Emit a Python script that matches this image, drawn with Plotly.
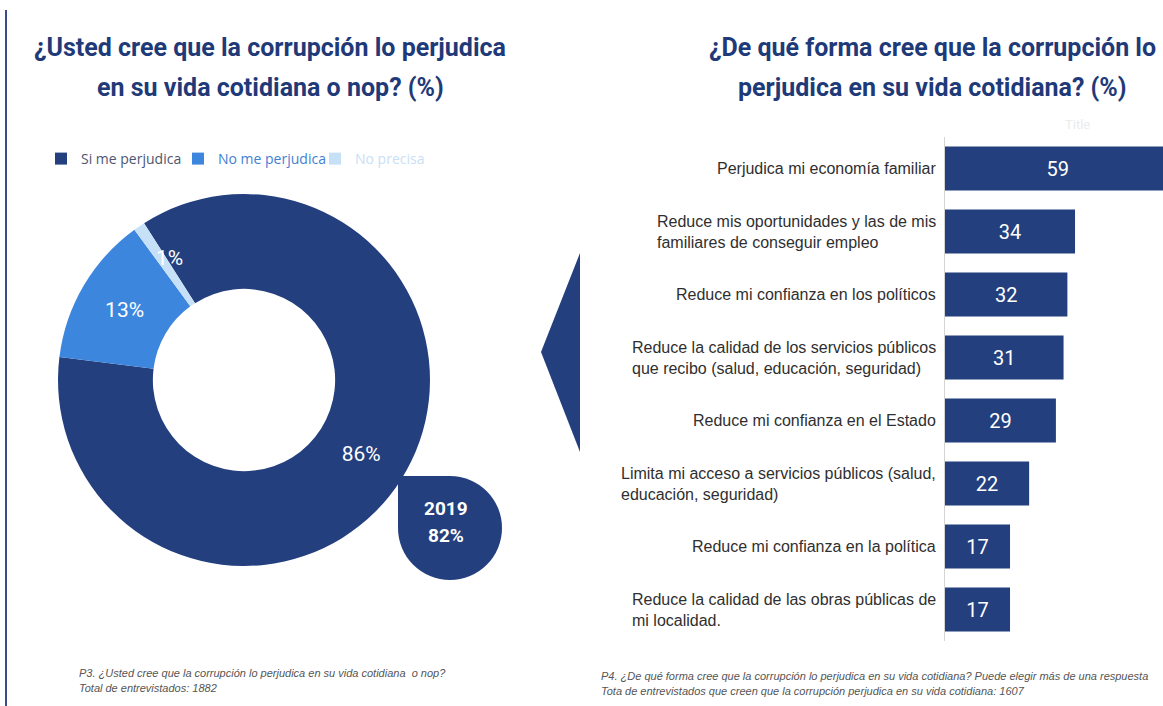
import math
import plotly.graph_objects as go

W, H = 1163, 706

# ---------------- data ----------------
pie_labels = ["Si me perjudica", "No me perjudica", "No precisa"]
pie_values = [86, 13, 1]
pie_colors = ["#233f7e", "#3d86de", "#c6e0f8"]
legend_text_colors = ["#4e5670", "#3f7fd3", "#c9e0f6"]

bubble_year = "2019"
bubble_value = "82%"

bar_categories = [
    "Perjudica mi economía familiar",
    "Reduce mis oportunidades y las de mis<br>familiares de conseguir empleo",
    "Reduce mi confianza en los políticos",
    "Reduce la calidad de los servicios públicos<br>que recibo (salud, educación, seguridad)",
    "Reduce mi confianza en el Estado",
    "Limita mi acceso a servicios públicos (salud,<br>educación, seguridad)",
    "Reduce mi confianza en la política",
    "Reduce la calidad de las obras públicas de<br>mi localidad.",
]
bar_values = [59, 34, 32, 31, 29, 22, 17, 17]

title_left = ["¿Usted cree que la corrupción lo perjudica", "en su vida cotidiana o nop? (%)"]
title_right = ["¿De qué forma cree que la corrupción lo", "perjudica en su vida cotidiana? (%)"]
note_left = ["P3. ¿Usted cree que la corrupción lo perjudica en su vida cotidiana  o nop?",
             "Total de entrevistados: 1882"]
note_right = ["P4. ¿De qué forma cree que la corrupción lo perjudica en su vida cotidiana? Puede elegir más de una respuesta",
              "Tota de entrevistados que creen que la corrupción perjudica en su vida cotidiana: 1607"]

NAVY = "#233f7e"
TITLE_C = "#1f3a78"


def px(x):
    return x / W


def py(y):
    return 1 - y / H


fig = go.Figure()

# ---------------- donut ----------------
cx, cy, r = 244, 380, 186
hole = 0.49
rotation = -32.5
total = sum(pie_values)
# tiny slices get their label placed at mid-ring (as in the original) via annotation
text_positions = ["inside" if v / total > 0.05 else "none" for v in pie_values]

fig.add_trace(go.Pie(
    labels=[f"<span style='color:{c}'>{l}</span>" for l, c in zip(pie_labels, legend_text_colors)],
    values=pie_values,
    hole=hole,
    sort=False,
    direction="clockwise",
    rotation=rotation,
    marker=dict(colors=pie_colors, line=dict(width=0)),
    texttemplate="%{value}%",
    textposition=text_positions,
    insidetextorientation="horizontal",
    textfont=dict(family="Roboto", size=21, color="white"),
    domain=dict(x=[px(cx - r), px(cx + r)], y=[py(cy + r), py(cy - r)]),
    showlegend=True,
    hoverinfo="label+value",
))

# ---------------- bars ----------------
fig.add_trace(go.Bar(
    x=bar_values,
    y=bar_categories,
    orientation="h",
    marker=dict(color=NAVY, line=dict(width=0)),
    texttemplate="%{x}",
    textposition="inside",
    insidetextanchor="middle",
    textfont=dict(family="Roboto", size=20, color="white"),
    xaxis="x2",
    yaxis="y2",
    showlegend=False,
    width=0.7,
))

annotations = []

# labels of tiny donut slices, at mid-ring of the slice angle derived from the data
cum = 0
for v, pos in zip(pie_values, text_positions):
    if pos == "none":
        ang = math.radians(rotation + 360 * (cum + v / 2) / total)
        rm = r * (1 + hole) / 2
        lx = cx + rm * math.sin(ang)
        ly = cy - rm * math.cos(ang)
        annotations.append(dict(x=px(lx + 4), y=py(ly - 8), xref="paper", yref="paper",
                                text=f"{v}%", showarrow=False, xanchor="center", yanchor="middle",
                                font=dict(family="Roboto", size=21, color="white")))
    cum += v

# category labels (block right-aligned, lines left-aligned)
for cat in bar_categories:
    annotations.append(dict(
        x=px(938), xref="paper", y=cat, yref="y2",
        text=cat, showarrow=False, xanchor="right", yanchor="middle", align="left",
        font=dict(family="Liberation Sans", size=16, color="#2f2f2f"),
    ))

# titles
for i, line in enumerate(title_left):
    annotations.append(dict(x=px(270), y=py(47 + 41 * i), xref="paper", yref="paper",
                            text=f"<b>{line}</b>", showarrow=False, xanchor="center", yanchor="middle",
                            font=dict(family="Roboto", size=25, color=TITLE_C)))
for i, line in enumerate(title_right):
    annotations.append(dict(x=px(932), y=py(47 + 41 * i), xref="paper", yref="paper",
                            text=f"<b>{line}</b>", showarrow=False, xanchor="center", yanchor="middle",
                            font=dict(family="Roboto", size=25, color=TITLE_C)))

# faint "Title"
annotations.append(dict(x=px(1077), y=py(125), xref="paper", yref="paper", text="Title",
                        showarrow=False, xanchor="center", yanchor="middle",
                        font=dict(family="Roboto", size=13, color="#ececec")))

# footnotes
for i, line in enumerate(note_left):
    annotations.append(dict(x=px(77), y=py(673 + 15 * i), xref="paper", yref="paper",
                            text=f"<i>{line}</i>", showarrow=False, xanchor="left", yanchor="middle",
                            font=dict(family="Liberation Sans", size=11, color="#555555")))
for i, line in enumerate(note_right):
    annotations.append(dict(x=px(599), y=py(676 + 15 * i), xref="paper", yref="paper",
                            text=f"<i>{line}</i>", showarrow=False, xanchor="left", yanchor="middle",
                            font=dict(family="Liberation Sans", size=11, color="#555555")))

# bubble text
annotations.append(dict(x=px(446), y=py(508), xref="paper", yref="paper", text=f"<b>{bubble_year}</b>",
                        showarrow=False, xanchor="center", yanchor="middle",
                        font=dict(family="Roboto", size=19, color="white")))
annotations.append(dict(x=px(446), y=py(535), xref="paper", yref="paper", text=f"<b>{bubble_value}</b>",
                        showarrow=False, xanchor="center", yanchor="middle",
                        font=dict(family="Roboto", size=19, color="white")))

shapes = [
    # left border line
    dict(type="line", xref="paper", yref="paper", x0=px(6), x1=px(6), y0=py(10), y1=py(706),
         line=dict(color="#3b4a8c", width=2)),
    # triangle pointer
    dict(type="path", xref="paper", yref="paper",
         path=f"M {px(580)},{py(253)} L {px(541)},{py(352)} L {px(580)},{py(452)} Z",
         fillcolor=NAVY, line=dict(width=0)),
    # teardrop bubble: circle + square corner
    dict(type="circle", xref="paper", yref="paper", x0=px(398), x1=px(502), y0=py(476), y1=py(580),
         fillcolor=NAVY, line=dict(width=0)),
    dict(type="rect", xref="paper", yref="paper", x0=px(398), x1=px(450), y0=py(476), y1=py(528),
         fillcolor=NAVY, line=dict(width=0)),
]

fig.update_layout(
    width=W, height=H,
    margin=dict(l=0, r=0, t=0, b=0),
    paper_bgcolor="white", plot_bgcolor="white",
    showlegend=True,
    legend=dict(orientation="h", x=px(41), y=py(143), xanchor="left", yanchor="top",
                font=dict(family="Open Sans", size=14, color="#4e5670"),
                entrywidth=92, entrywidthmode="pixels",
                bgcolor="rgba(0,0,0,0)", itemclick=False),
    uniformtext=dict(mode="show", minsize=19),
    xaxis2=dict(domain=[px(945), 1.0], range=[0, 57], anchor="y2",
                showgrid=False, zeroline=False, showticklabels=False, showline=False, fixedrange=True),
    yaxis2=dict(domain=[py(641), py(137)], anchor="x2", autorange="reversed",
                categoryorder="array", categoryarray=bar_categories,
                showgrid=False, zeroline=False, showticklabels=False,
                showline=True, linecolor="#d4d4d4", linewidth=1, ticks=""),
    annotations=annotations,
    shapes=shapes,
    bargap=0.3,
)

fig.write_html("out.html", config={"displayModeBar": False},
               post_script="document.body.style.margin='0';document.body.style.overflow='hidden';")
